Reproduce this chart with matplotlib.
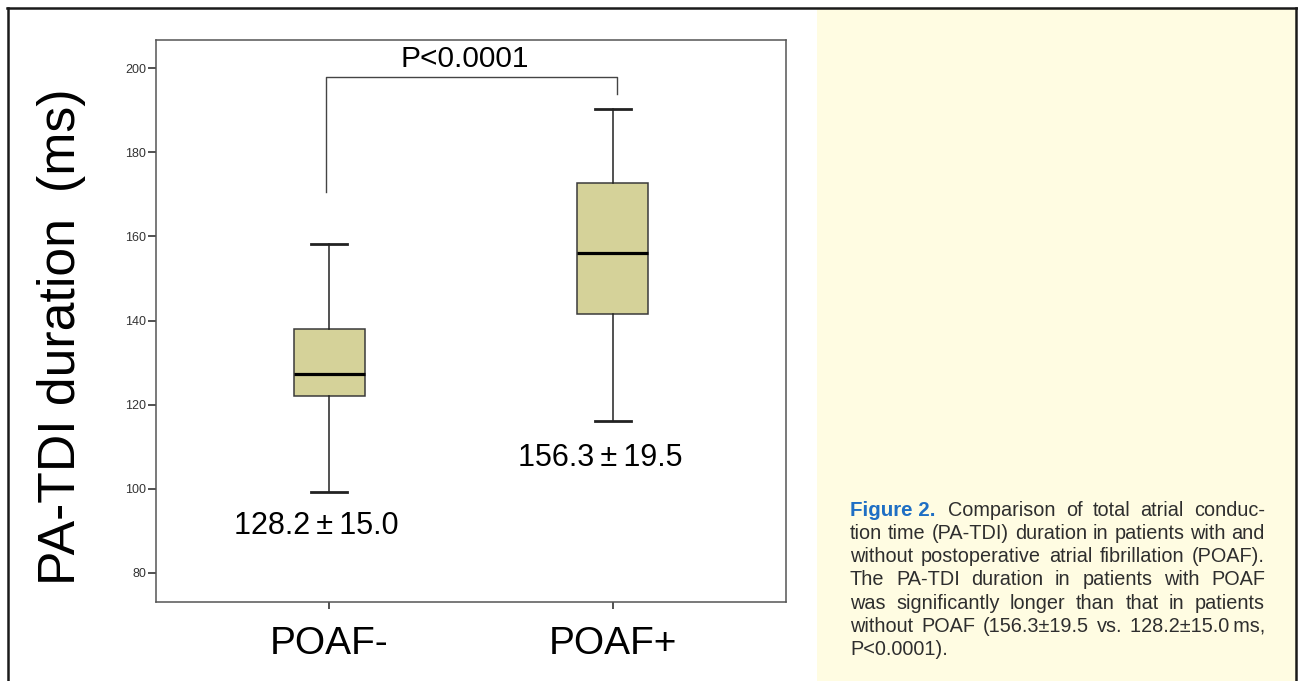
import matplotlib
matplotlib.use("Agg")
import matplotlib.pyplot as plt
from matplotlib.patches import Rectangle
from matplotlib.lines import Line2D

# ---- data ----
groups = ["POAF-", "POAF+"]
positions = [1.0, 2.0]
q1 = [122.0, 141.6]
median = [127.3, 156.1]
q3 = [138.0, 172.7]
whisker_low = [99.2, 116.2]
whisker_high = [158.2, 190.3]
mean_sd_labels = ["128.2\u2009\u00b1\u200915.0", "156.3\u2009\u00b1\u200919.5"]
yticks = [80, 100, 120, 140, 160, 180, 200]
p_label = "P<0.0001"
ylabel = "PA-TDI duration\u2002(ms)"
caption_head = "Figure 2."
caption_lines = [
    "Comparison of total atrial conduc-",
    "tion time (PA-TDI) duration in patients with and",
    "without postoperative atrial fibrillation (POAF).",
    "The PA-TDI duration in patients with POAF",
    "was significantly longer than that in patients",
    "without POAF (156.3\u00b119.5 vs. 128.2\u00b115.0\u2009ms,",
    "P<0.0001).",
]

W, H = 1298, 681
fig = plt.figure(figsize=(W / 100, H / 100), dpi=100)
fig.patch.set_facecolor("white")

FONT = ["Liberation Sans", "DejaVu Sans"]

# caption panel
fig.patches.append(Rectangle((817 / W, 0), (1296 - 817) / W, 1 - 8 / H,
                             transform=fig.transFigure, facecolor="#FFFCE2",
                             edgecolor="none", zorder=0))
# outer frame
fl = dict(transform=fig.transFigure, color="#1a1a1a", lw=1.8, zorder=5)
fig.lines.append(Line2D([7 / W, 1296.5 / W], [1 - 7.5 / H, 1 - 7.5 / H], **fl))
fig.lines.append(Line2D([7.5 / W, 7.5 / W], [0, 1 - 7.5 / H], **fl))
fig.lines.append(Line2D([1296 / W, 1296 / W], [0, 1 - 7.5 / H], **fl))

ax = fig.add_axes([156 / W, 1 - 602 / H, 630 / W, (602 - 40) / H])
ax.set_facecolor("white")

stats = []
for i in range(len(groups)):
    stats.append(dict(med=median[i], q1=q1[i], q3=q3[i],
                      whislo=whisker_low[i], whishi=whisker_high[i],
                      fliers=[], label=groups[i]))
ax.bxp(stats, positions=positions, widths=0.25, capwidths=0.125,
       showfliers=False, patch_artist=True,
       boxprops=dict(facecolor="#D5D299", edgecolor="#3a3a3a", lw=1.1),
       medianprops=dict(color="black", lw=2.3),
       whiskerprops=dict(color="#222222", lw=1.1),
       capprops=dict(color="#222222", lw=2.0))

ax.set_xlim(0.39, 2.61)
ax.set_ylim(73.1, 206.7)
ax.set_yticks(yticks)
ax.set_yticklabels([str(v) for v in yticks], fontsize=9, color="#333333",
                   family=FONT)
ax.set_xticks(positions)
ax.set_xticklabels(groups, fontsize=28, family=FONT, color="black")
ax.tick_params(axis="y", length=6, width=1.2, color="#333333", pad=1)
ax.tick_params(axis="x", length=5, width=1.2, color="#333333", pad=12)
for s in ax.spines.values():
    s.set_color("#555555")
    s.set_linewidth(1.1)

# significance bracket
ax.plot([0.99, 0.99, 2.015, 2.015], [170.5, 197.9, 197.9, 193.8],
        color="#444444", lw=1.0, clip_on=False)
ax.text(1.479, 202.2, p_label, ha="center", va="center", fontsize=21.5,
        family=FONT)

# mean +/- SD annotations
ann_x = [0.954, 1.954]
ann_y = [91.2, 107.4]
for x, y, t in zip(ann_x, ann_y, mean_sd_labels):
    ax.text(x, y, t, ha="center", va="center", fontsize=22, family=FONT)

fig.text(61 / W, 1 - 337 / H, ylabel, rotation=90, ha="center", va="center",
         fontsize=37.3, family=FONT)

# caption with justification
fig.canvas.draw()
renderer = fig.canvas.get_renderer()
cap_fs = 14.3
left_px, right_px = 850, 1265
line_y0, line_dy = 510, 23.3
txtcolor = "#2e2e2e"

head = fig.text(left_px / W, 1 - line_y0 / H, caption_head, ha="left",
                va="center", fontsize=cap_fs + 0.5, fontweight="bold",
                color="#1f6fc4",
                family=["Liberation Sans Narrow", "Liberation Sans"])
fig.canvas.draw()


def width_of(t):
    return t.get_window_extent(renderer).width


for li, line in enumerate(caption_lines):
    y = 1 - (line_y0 + li * line_dy) / H
    start = left_px
    if li == 0:
        start = 948
    words = line.split(" ")
    arts = [fig.text(0, y, w, ha="left", va="center", fontsize=cap_fs,
                     family=FONT, color=txtcolor) for w in words]
    fig.canvas.draw()
    widths = [width_of(a) for a in arts]
    if li == len(caption_lines) - 1 or len(words) == 1:
        gap = 0
    else:
        gap = (right_px - start - sum(widths)) / (len(words) - 1)
    x = start
    for a, w in zip(arts, widths):
        a.set_x(x / W)
        x += w + gap

fig.savefig("out.png", dpi=100, facecolor=fig.get_facecolor())
